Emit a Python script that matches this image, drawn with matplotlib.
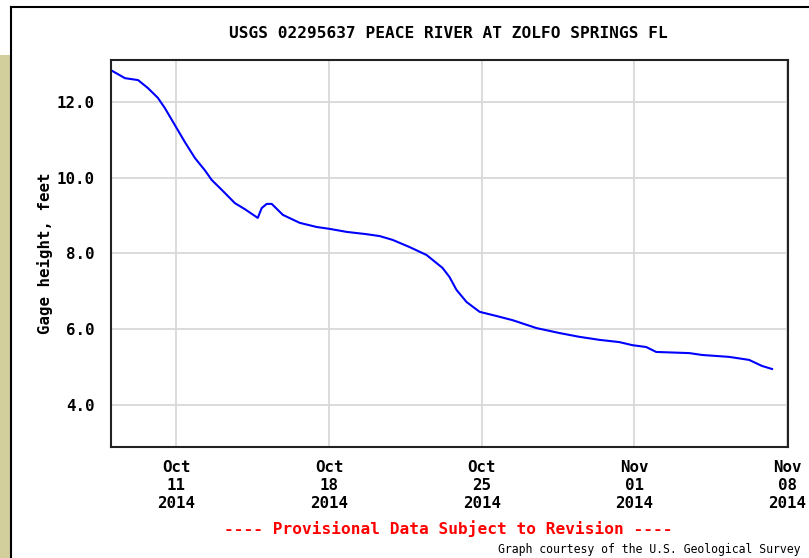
import numpy as np
import pandas as pd
import matplotlib
matplotlib.use("Agg")
import matplotlib.pyplot as plt
from matplotlib.patches import Rectangle
from matplotlib.lines import Line2D

start = pd.Timestamp("2014-10-08")

# days after Oct 8 2014 and gage height (feet)
days = [0.00, 0.64, 1.24, 1.69, 2.15, 2.47, 2.93, 3.39, 3.85, 4.30, 4.62, 5.08,
        5.68, 6.14, 6.73, 6.91, 7.14, 7.37, 7.88, 8.65, 9.43, 10.03, 10.81,
        11.72, 12.32, 12.91, 13.69, 14.47, 15.20, 15.52, 15.84, 16.30, 16.90,
        17.67, 18.41, 19.51, 20.56, 21.47, 22.39, 23.31, 23.90, 24.54, 25.00,
        26.51, 27.11, 28.34, 29.26, 29.85, 30.31]
height = [12.84, 12.63, 12.58, 12.37, 12.11, 11.84, 11.39, 10.94, 10.52, 10.20,
          9.94, 9.68, 9.33, 9.17, 8.94, 9.20, 9.31, 9.31, 9.02, 8.81, 8.70,
          8.65, 8.57, 8.51, 8.46, 8.36, 8.17, 7.96, 7.62, 7.38, 7.04, 6.72,
          6.46, 6.35, 6.24, 6.03, 5.90, 5.80, 5.72, 5.66, 5.58, 5.53, 5.40,
          5.37, 5.32, 5.27, 5.19, 5.03, 4.95]

tick_dates = ["2014-10-11", "2014-10-18", "2014-10-25", "2014-11-01", "2014-11-08"]
tick_labels = ["Oct\n11\n2014", "Oct\n18\n2014", "Oct\n25\n2014", "Nov\n01\n2014", "Nov\n08\n2014"]
y_ticks = [4.0, 6.0, 8.0, 10.0, 12.0]

times = [start + pd.Timedelta(days=d) for d in days]

mono = "DejaVu Sans Mono"

fig = plt.figure(figsize=(8.09, 5.58), dpi=100)
fig.patch.set_facecolor("white")

# page decoration: beige strip and black frame lines
fig.patches.append(Rectangle((0, 0), 10 / 809, 503 / 558, transform=fig.transFigure,
                             facecolor="#d3cf9d", edgecolor="none"))
fig.lines.append(Line2D([11 / 809, 11 / 809], [0, 551 / 558], transform=fig.transFigure,
                        color="black", lw=1.5))
fig.lines.append(Line2D([11 / 809, 1], [551 / 558, 551 / 558], transform=fig.transFigure,
                        color="black", lw=1.5))

ax = fig.add_axes([111 / 809, 111 / 558, 677 / 809, 387 / 558])
ax.plot(times, height, color="#0000ff", lw=1.5)

ax.set_xlim(start, pd.Timestamp("2014-11-08 01:00"))
ax.set_ylim(2.89, 13.11)

ax.set_xticks([pd.Timestamp(t) for t in tick_dates])
ax.set_xticklabels(tick_labels, family=mono, fontweight="bold", fontsize=11.3,
                   linespacing=1.25)
ax.set_yticks(y_ticks)
ax.set_yticklabels([f"{v:.1f}" for v in y_ticks], family=mono, fontweight="bold",
                   fontsize=11.3)
ax.tick_params(length=0, pad=12)
ax.tick_params(axis="x", pad=9)

ax.grid(True, color="#d9d9d9", lw=1.3)
ax.set_axisbelow(True)
for s in ax.spines.values():
    s.set_color("#222222")
    s.set_linewidth(1.5)

ax.set_ylabel("Gage height, feet", family=mono, fontweight="bold", fontsize=11.3)
ax.yaxis.set_label_coords(-0.086, 0.5)

fig.text(448 / 809, 1 - 33 / 558, "USGS 02295637 PEACE RIVER AT ZOLFO SPRINGS FL",
         family=mono, fontweight="bold", fontsize=11.6, ha="center", va="center")
fig.text(448 / 809, 1 - 529 / 558, "---- Provisional Data Subject to Revision ----",
         family=mono, fontweight="bold", fontsize=11.6, color="#ff0000",
         ha="center", va="center")
fig.text(800 / 809, 1 - 550 / 558, "Graph courtesy of the U.S. Geological Survey",
         family=mono, fontsize=8.3, ha="right", va="center")

fig.savefig("out.png", dpi=100)
